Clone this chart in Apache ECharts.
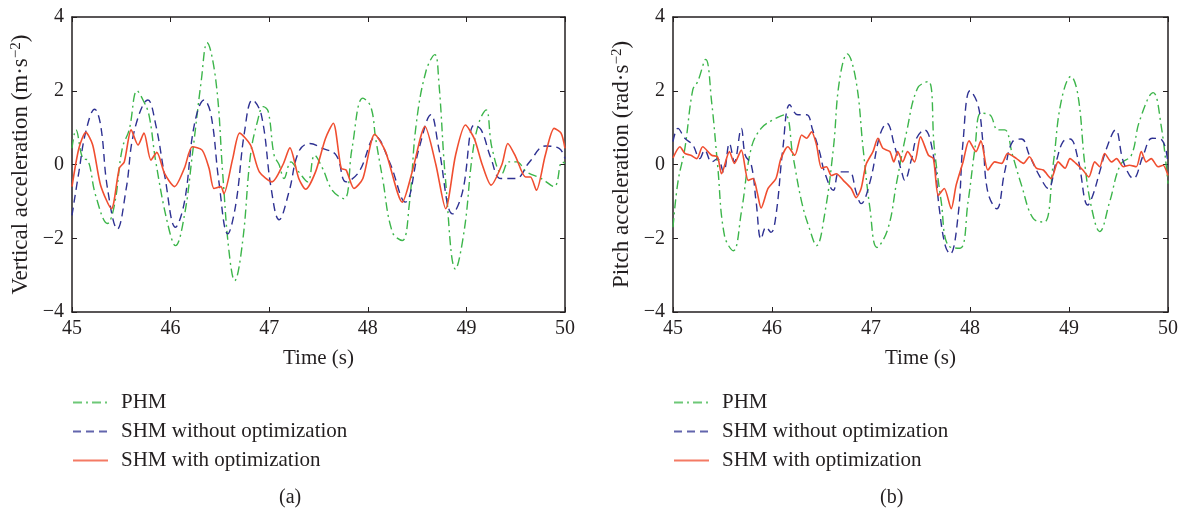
<!DOCTYPE html>
<html>
<head>
<meta charset="utf-8">
<script src="https://cdn.jsdelivr.net/npm/echarts@6/dist/echarts.min.js"></script>
<style>
  html, body { margin: 0; padding: 0; background: #fff; }
  #chart { width: 1191px; height: 514px; }
</style>
</head>
<body>
<div id="chart"></div>
<script>
// (a) vertical acceleration, [time, value]
const leftPHM = [[45.0,0.44],[45.04,0.94],[45.11,0.16],[45.16,0.12],[45.24,-0.84],[45.36,-1.6],[45.43,-1.1],[45.51,0.44],[45.58,0.94],[45.66,2.0],[45.72,1.75],[45.78,1.35],[45.85,0.07],[45.97,-1.6],[46.05,-2.2],[46.14,-1.38],[46.22,0.25],[46.31,2.25],[46.37,3.3],[46.46,2.25],[46.53,-0.3],[46.59,-2.3],[46.65,-3.15],[46.73,-2.1],[46.81,0.25],[46.88,1.16],[46.94,1.57],[46.99,1.44],[47.05,0.25],[47.10,0],[47.15,-0.38],[47.22,0.07],[47.30,-0.2],[47.39,-0.47],[47.46,0.25],[47.54,-0.1],[47.64,-0.7],[47.76,-0.93],[47.84,0.44],[47.95,1.8],[48.03,1.57],[48.08,0.7],[48.15,-0.38],[48.25,-1.84],[48.35,-2.06],[48.42,-1.1],[48.49,1.07],[48.59,2.53],[48.68,2.98],[48.72,2.25],[48.79,-0.47],[48.89,-2.84],[48.98,-1.75],[49.06,0.25],[49.13,1.16],[49.20,1.48],[49.26,0.44],[49.36,-0.25],[49.43,0.07],[49.51,0.07],[49.61,-0.2],[49.76,-0.38],[49.89,-0.6],[49.97,0.07],[50.0,0.03]];
const leftSHM = [[45.0,-1.38],[45.07,-0.2],[45.14,0.89],[45.23,1.5],[45.29,1.07],[45.36,-0.65],[45.46,-1.75],[45.55,-0.65],[45.63,0.89],[45.77,1.75],[45.85,1.07],[45.94,-0.3],[46.05,-1.7],[46.14,-1.02],[46.24,1.07],[46.34,1.75],[46.41,1.35],[46.49,-0.47],[46.58,-1.88],[46.66,-1.1],[46.75,0.89],[46.83,1.75],[46.92,1.35],[47.02,-0.65],[47.10,-1.5],[47.20,-0.75],[47.30,0.35],[47.41,0.57],[47.54,0.44],[47.68,0.25],[47.78,-0.47],[47.91,-0.2],[48.08,0.75],[48.22,0.07],[48.38,-1.02],[48.52,0.44],[48.64,1.35],[48.72,0.44],[48.86,-1.34],[48.96,-0.75],[49.08,1.07],[49.15,0.94],[49.25,0.16],[49.35,-0.38],[49.50,-0.38],[49.64,0.07],[49.80,0.5],[49.94,0.44],[50.0,0.16]];
const leftOPT = [[45.0,-0.6],[45.07,0.44],[45.14,0.87],[45.21,0.53],[45.29,-0.56],[45.40,-1.2],[45.48,-0.1],[45.53,0.07],[45.60,0.94],[45.67,0.53],[45.73,0.85],[45.80,0.12],[45.86,0.33],[45.94,-0.25],[46.04,-0.6],[46.14,-0.1],[46.22,0.48],[46.32,0.39],[46.39,-0.1],[46.44,-0.65],[46.51,-0.6],[46.54,-0.79],[46.63,0.16],[46.70,0.85],[46.81,0.53],[46.90,-0.2],[47.03,-0.47],[47.14,0],[47.21,0.45],[47.30,-0.38],[47.37,-0.67],[47.47,-0.2],[47.57,0.7],[47.65,1.12],[47.73,-0.1],[47.78,-0.15],[47.86,-0.65],[47.95,-0.38],[48.07,0.82],[48.18,0.35],[48.35,-1.02],[48.45,-0.2],[48.58,1.03],[48.69,0],[48.79,-1.2],[48.89,0.25],[48.99,1.07],[49.08,0.7],[49.16,0],[49.25,-0.56],[49.36,0],[49.42,0.57],[49.50,0.21],[49.60,-0.34],[49.65,-0.34],[49.71,-0.7],[49.80,0.25],[49.89,0.98],[49.96,0.85],[50.0,0.44]];

// (b) pitch acceleration, [time, value]
const rightPHM = [[45.0,-1.7],[45.05,-0.47],[45.12,0.44],[45.20,2.03],[45.25,2.25],[45.33,2.85],[45.39,1.7],[45.45,0],[45.52,-1.93],[45.61,-2.34],[45.69,-1.3],[45.79,0.44],[45.89,0.98],[46.01,1.21],[46.13,1.35],[46.21,0.25],[46.30,-1.02],[46.38,-1.75],[46.45,-2.2],[46.53,-1.38],[46.62,0.44],[46.68,2.25],[46.76,3.0],[46.85,2.25],[46.92,0.44],[46.99,-1.2],[47.06,-2.25],[47.17,-1.75],[47.26,-0.47],[47.36,0.89],[47.47,2.07],[47.58,2.25],[47.64,0.44],[47.71,-1.02],[47.78,-2.2],[47.90,-2.27],[47.98,-1.02],[48.05,0.44],[48.11,1.39],[48.20,1.35],[48.28,0.94],[48.35,0.94],[48.43,0.25],[48.52,-0.56],[48.64,-1.47],[48.75,-1.56],[48.84,0],[48.92,1.7],[49.02,2.39],[49.09,1.89],[49.16,0],[49.23,-1.2],[49.31,-1.82],[49.41,-1.02],[49.52,0],[49.63,0.25],[49.71,1.16],[49.85,1.95],[49.93,1.07],[50.0,-0.52]];
const rightSHM = [[45.0,0.62],[45.05,0.98],[45.12,0.71],[45.20,0.53],[45.27,0.16],[45.32,0.39],[45.39,0.07],[45.45,0.16],[45.51,-0.2],[45.57,0.57],[45.62,0.07],[45.69,0.98],[45.73,0.25],[45.79,0],[45.84,-1.02],[45.89,-2.02],[45.94,-1.7],[45.99,-1.84],[46.04,-1.38],[46.11,0.44],[46.18,1.62],[46.26,1.35],[46.35,1.35],[46.41,0.94],[46.48,0.35],[46.53,-0.2],[46.62,-0.7],[46.68,-0.2],[46.78,-0.2],[46.85,-0.75],[46.90,-1.06],[46.99,-0.47],[47.09,0.8],[47.16,1.12],[47.24,0.48],[47.31,-0.2],[47.34,-0.43],[47.41,0.16],[47.46,0.71],[47.54,0.94],[47.63,0.25],[47.69,-1.2],[47.75,-2.2],[47.80,-2.43],[47.88,-1.38],[47.93,0.62],[48.00,2.0],[48.08,1.62],[48.13,0.62],[48.18,-0.75],[48.27,-1.2],[48.35,-0.2],[48.43,0.62],[48.52,0.69],[48.60,0.25],[48.70,-0.3],[48.79,-0.65],[48.87,0.07],[48.94,0.62],[49.01,0.69],[49.09,0.16],[49.19,-1.1],[49.24,-0.84],[49.31,-0.2],[49.38,0.44],[49.47,0.94],[49.55,0.07],[49.65,-0.38],[49.75,0.25],[49.84,0.71],[49.94,0.66],[50.0,0]];
const rightOPT = [[45.0,0.18],[45.07,0.48],[45.12,0.3],[45.18,0.25],[45.24,0.16],[45.30,0.48],[45.39,0.25],[45.45,0.21],[45.49,-0.25],[45.57,0.35],[45.62,0.03],[45.69,0.39],[45.76,-0.43],[45.81,-0.38],[45.85,-0.75],[45.89,-1.18],[45.96,-0.65],[46.04,-0.38],[46.09,0.16],[46.16,0.48],[46.23,0.25],[46.30,0.8],[46.35,0.71],[46.40,0.89],[46.45,0.53],[46.50,-0.1],[46.55,-0.06],[46.60,-0.3],[46.65,-0.25],[46.72,-0.43],[46.80,-0.65],[46.85,-0.9],[46.90,-0.65],[46.95,0],[47.02,0.35],[47.07,0.71],[47.12,0.44],[47.19,0.35],[47.23,0.07],[47.27,0.35],[47.32,0.07],[47.37,0.35],[47.44,0.07],[47.50,0.75],[47.58,0.25],[47.63,0.16],[47.68,-0.84],[47.74,-0.65],[47.81,-1.2],[47.86,-0.56],[47.93,0.07],[47.99,0.64],[48.06,0.35],[48.11,0.64],[48.18,-0.15],[48.25,0.07],[48.32,0.03],[48.38,0.3],[48.47,0.16],[48.54,0.03],[48.60,0.21],[48.67,-0.1],[48.74,-0.15],[48.82,-0.38],[48.89,0.07],[48.96,-0.1],[49.01,0.16],[49.07,0.03],[49.14,-0.15],[49.20,-0.34],[49.26,0.07],[49.31,-0.06],[49.36,0.3],[49.43,0.07],[49.48,0.16],[49.55,-0.06],[49.61,-0.02],[49.68,-0.06],[49.73,0.35],[49.78,0.07],[49.83,0.16],[49.90,-0.06],[49.95,-0.02],[50.0,-0.3]];

const seriesNames = ['PHM', 'SHM without optimization', 'SHM with optimization'];
const xTicks = [45, 46, 47, 48, 49, 50];

const ink = '#231f20';
const font = '"Liberation Serif", "Times New Roman", serif';
const colors = ['#3cb54a', '#2e3192', '#f04e30'];
const dashes = [[9, 4, 2, 4], [8, 5], 'solid'];

const chart = echarts.init(document.getElementById('chart'));

function xAxes(gridIndex) {
    const base = {
        gridIndex: gridIndex,
        type: 'value',
        min: xTicks[0],
        max: xTicks[xTicks.length - 1],
        interval: 1,
        splitLine: { show: false },
        axisLine: { onZero: false, lineStyle: { color: ink, width: 1.5 } },
        axisTick: { inside: true, length: 5, lineStyle: { color: ink, width: 1 } },
    };
    return [
        Object.assign({}, base, {
            position: 'bottom',
            name: 'Time (s)',
            nameLocation: 'middle',
            nameGap: 36,
            nameTextStyle: { fontFamily: font, fontSize: 21, color: ink },
            axisLabel: { fontFamily: font, fontSize: 20, color: ink, margin: 7 },
        }),
        Object.assign({}, base, { position: 'top', axisLabel: { show: false } }),
    ];
}

function yAxes(gridIndex, title, unit) {
    const base = {
        gridIndex: gridIndex,
        type: 'value',
        min: -4,
        max: 4,
        interval: 2,
        splitLine: { show: false },
        axisLine: { onZero: false, lineStyle: { color: ink, width: 1.5 } },
        axisTick: { inside: true, length: 5, lineStyle: { color: ink, width: 1 } },
    };
    return [
        Object.assign({}, base, {
            position: 'left',
            name: '{t|' + title + ' (' + unit + '·s}{s|−2}{t|)}',
            nameLocation: 'middle',
            nameRotate: 90,
            nameGap: 40,
            nameTextStyle: {
                rich: {
                    t: { fontFamily: font, fontSize: 23, color: ink },
                    s: { fontFamily: font, fontSize: 15, color: ink, verticalAlign: 'top', padding: [0, 0, 7, 0] },
                },
            },
            axisLabel: {
                fontFamily: font, fontSize: 20, color: ink, margin: 8,
                formatter: (v) => String(v).replace('-', '−'),
            },
        }),
        Object.assign({}, base, { position: 'right', axisLabel: { show: false } }),
    ];
}

function lines(gridIndex, data) {
    return data.map((d, i) => ({
        name: seriesNames[i],
        type: 'line',
        xAxisIndex: gridIndex * 2,
        yAxisIndex: gridIndex * 2,
        data: d,
        symbol: 'none',
        smooth: i === 2 ? 0.25 : 0.4,
        clip: true,
        lineStyle: { color: colors[i], width: i === 2 ? 1.6 : 1.4, type: dashes[i] },
        itemStyle: { color: colors[i] },
    }));
}

function legend(left) {
    return {
        orient: 'vertical',
        left: left,
        top: 392,
        padding: 0,
        data: seriesNames,
        itemWidth: 35,
        itemHeight: 14,
        itemGap: 8,
        selectedMode: false,
        itemStyle: { opacity: 0 },
        lineStyle: { opacity: 0.75 },
        textStyle: { fontFamily: font, fontSize: 21, color: ink, padding: [0, 0, 0, 8] },
    };
}

const option = {
    animation: false,
    backgroundColor: '#fff',
    grid: [
        { left: 72, top: 17, width: 493, height: 295 },
        { left: 673, top: 17, width: 495, height: 295 },
    ],
    xAxis: xAxes(0).concat(xAxes(1)),
    yAxis: yAxes(0, 'Vertical acceleration', 'm').concat(yAxes(1, 'Pitch acceleration', 'rad')),
    legend: [legend(72), legend(673)],
    series: lines(0, [leftPHM, leftSHM, leftOPT]).concat(lines(1, [rightPHM, rightSHM, rightOPT])),
    graphic: [
        { type: 'text', left: 279, top: 488, style: { text: '(a)', font: '20px ' + font, fill: ink } },
        { type: 'text', left: 880, top: 488, style: { text: '(b)', font: '20px ' + font, fill: ink } },
    ],
};

chart.setOption(option);
window.addEventListener('resize', () => chart.resize());
</script>
</body>
</html>
